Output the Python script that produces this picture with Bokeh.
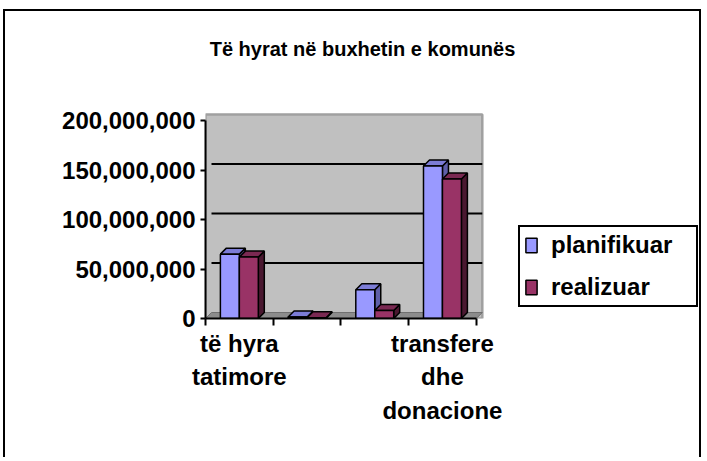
from bokeh.plotting import figure
from bokeh.models import Legend, LegendItem, FixedTicker, NumeralTickFormatter, Label, Range1d, ColumnDataSource
from bokeh.embed import file_html
from bokeh.resources import INLINE

# ---- data ----
categories = ["të hyra tatimore", "të hyra jo tatimore", "të hyra vetanake", "transfere dhe donacione"]
x_tick_labels = {0: "të hyra\ntatimore", 3: "transfere\ndhe\ndonacione"}
planifikuar = [65e6, 1.5e6, 29e6, 154e6]
realizuar = [62e6, 0.8e6, 8e6, 141e6]
y_ticks = [0, 50e6, 100e6, 150e6, 200e6]
series_names = ["planifikuar", "realizuar"]
title_text = "Të hyrat në buxhetin e komunës"

FONT = "Liberation Sans"
W, H = 698, 448
LEFT, RIGHT, TOP, BOTTOM = 200, 3, 3, 141
PXU = 67.7            # pixels per category
PXV = 0.99e-6         # pixels per unit value
X0 = -0.5
frame_w = W - LEFT - RIGHT
frame_h = H - TOP - BOTTOM
X1 = X0 + frame_w / PXU
Y_END = frame_h / PXV
DX = 6 / PXU
DY = 6 / PXV
BAR_W = 0.28
OFFS = [-0.14, 0.14]
COLORS = [("#9999FF", "#7C7CD6", "#5F5FA8"), ("#993366", "#7A2952", "#4A1830")]
n = len(categories)
WALL_R = n - 0.5 + DX
WALL_T = max(y_ticks) + DY

p = figure(width=W, height=H, x_range=Range1d(X0, X1), y_range=Range1d(0, Y_END),
           output_backend="svg", toolbar_location=None,
           min_border_left=LEFT, min_border_right=RIGHT, min_border_top=TOP, min_border_bottom=BOTTOM,
           background_fill_color="white", border_fill_color="white",
           outline_line_color=None)
p.styles = {"border-top": "2px solid black", "border-left": "2px solid black",
            "border-right": "2px solid black", "margin-left": "3px", "margin-top": "9px"}
p.xgrid.visible = False
p.ygrid.visible = False

# walls
p.patch([X0, WALL_R, WALL_R, X0], [0, 0, WALL_T, WALL_T], fill_color="#C0C0C0", line_color="#A0A0A0", line_width=2.5)
# floor
p.patch([X0, n - 0.5, n - 0.5 + DX, X0 + DX], [0, 0, DY, DY], fill_color="#8C8C8C", line_color="#707070", line_width=1)

# gridlines on the back wall
grid_vals = [v for v in y_ticks if 0 < v < max(y_ticks)]
p.segment(x0=[X0 + DX] * len(grid_vals), x1=[WALL_R] * len(grid_vals),
          y0=[v + DY for v in grid_vals], y1=[v + DY for v in grid_vals],
          line_color="black", line_width=2)

legend_items = []
for s, vals in enumerate([planifikuar, realizuar]):
    front, top, side = COLORS[s]
    xs_c = [i + OFFS[s] for i in range(n)]
    lefts = [x - BAR_W / 2 for x in xs_c]
    rights = [x + BAR_W / 2 for x in xs_c]
    side_xs = [[r, r, r + DX, r + DX] for r in rights]
    side_ys = [[0, v, v + DY, DY] for v in vals]
    top_xs = [[l, l + DX, r + DX, r] for l, r in zip(lefts, rights)]
    top_ys = [[v, v + DY, v + DY, v] for v in vals]
    p.patches(side_xs, side_ys, fill_color=side, line_color="black", line_width=1.5)
    p.patches(top_xs, top_ys, fill_color=top, line_color="black", line_width=1.5)
    src = ColumnDataSource(dict(x=xs_c, top=vals))
    r = p.vbar(x="x", top="top", width=BAR_W, source=src, fill_color=front, line_color="black", line_width=1.5)
    legend_items.append(LegendItem(label=series_names[s], renderers=[r]))

# y axis
ya = p.yaxis[0]
ya.ticker = FixedTicker(ticks=y_ticks)
ya.formatter = NumeralTickFormatter(format="0,0")
ya.bounds = (0, max(y_ticks))
ya.axis_line_width = 2
ya.major_tick_line_width = 2
ya.major_tick_out = 5
ya.major_tick_in = 0
ya.minor_tick_line_color = None
ya.major_label_standoff = 5
ya.major_label_text_font = FONT
ya.major_label_text_font_style = "bold"
ya.major_label_text_font_size = "24px"
ya.major_label_text_color = "black"

# x axis
xa = p.xaxis[0]
xa.ticker = FixedTicker(ticks=list(x_tick_labels.keys()), minor_ticks=[i - 0.5 for i in range(n + 1)])
xa.major_label_overrides = x_tick_labels
xa.bounds = (X0, n - 0.5)
xa.axis_line_width = 2
xa.major_tick_line_color = None
xa.major_tick_out = 0
xa.major_tick_in = 0
xa.minor_tick_line_color = "black"
xa.minor_tick_line_width = 2
xa.minor_tick_out = 7
xa.minor_tick_in = 0
xa.major_label_standoff = 4
xa.major_label_text_font = FONT
xa.major_label_text_font_style = "bold"
xa.major_label_text_font_size = "24px"
xa.major_label_text_line_height = 1.25
xa.major_label_text_color = "black"

legend = Legend(items=legend_items, location=(313, 11),
                border_line_color="black", border_line_width=2, border_line_alpha=1,
                background_fill_color="white", background_fill_alpha=1,
                padding=4, margin=0, spacing=14,
                glyph_width=14, glyph_height=18, label_height=20, label_width=141,
                label_standoff=13,
                label_text_font=FONT, label_text_font_style="bold", label_text_font_size="24px",
                label_text_color="black")
p.add_layout(legend)

p.add_layout(Label(x=157, y=270, x_units="screen", y_units="screen", text=title_text,
                   text_align="center", text_baseline="middle", text_color="black",
                   text_font=FONT, text_font_style="bold", text_font_size="20px"))

open("out.html", "w").write(file_html(p, INLINE))
